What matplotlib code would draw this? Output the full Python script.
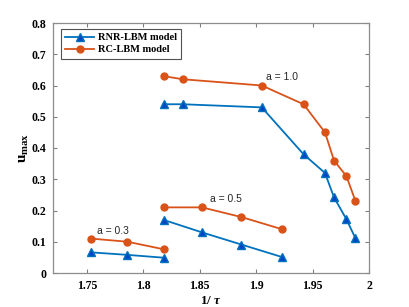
import matplotlib.pyplot as plt

# a = 0.3, 0.5, 1.0 groups, x is 1/tau
x_a03 = [1.754, 1.786, 1.818]
x_a05 = [1.818, 1.852, 1.887, 1.923]
x_a10 = [1.818, 1.835, 1.905, 1.942, 1.961, 1.969, 1.980, 1.988]

rnr_a03 = [0.066, 0.058, 0.049]
rc_a03 = [0.110, 0.100, 0.076]
rnr_a05 = [0.170, 0.130, 0.091, 0.051]
rc_a05 = [0.210, 0.210, 0.179, 0.140]
rnr_a10 = [0.540, 0.540, 0.530, 0.380, 0.320, 0.242, 0.172, 0.111]
rc_a10 = [0.630, 0.620, 0.600, 0.540, 0.450, 0.360, 0.310, 0.230]

x_ticks = [1.75, 1.8, 1.85, 1.9, 1.95, 2.0]
x_ticklabels = ["1.75", "1.8", "1.85", "1.9", "1.95", "2"]
y_ticks = [0, 0.1, 0.2, 0.3, 0.4, 0.5, 0.6, 0.7, 0.8]
y_ticklabels = ["0", "0.1", "0.2", "0.3", "0.4", "0.5", "0.6", "0.7", "0.8"]

BLUE = "#0072BD"
ORANGE = "#D95319"

plt.rcParams["font.family"] = ["Liberation Serif", "DejaVu Serif"]
plt.rcParams["font.weight"] = "bold"
plt.rcParams["mathtext.fontset"] = "custom"
plt.rcParams["mathtext.rm"] = "Liberation Serif:bold"
plt.rcParams["mathtext.bf"] = "Liberation Serif:bold"
plt.rcParams["mathtext.it"] = "Liberation Serif:italic:bold"

fig = plt.figure(figsize=(4.09, 3.07), dpi=100)
ax = fig.add_axes([53 / 409, 1 - 273 / 307, (369 - 53) / 409, (273 - 23) / 307])

rnr_style = dict(color=BLUE, lw=1.3, marker="^", ms=5.5, mfc="#0047C8", mec=BLUE, mew=1.0)
rc_style = dict(color=ORANGE, lw=1.3, marker="o", ms=5, mfc=ORANGE, mec=ORANGE)

ax.plot(x_a10, rnr_a10, label="RNR-LBM model", **rnr_style)
ax.plot(x_a10, rc_a10, label="RC-LBM model", **rc_style)
ax.plot(x_a05, rnr_a05, **rnr_style)
ax.plot(x_a05, rc_a05, **rc_style)
ax.plot(x_a03, rnr_a03, **rnr_style)
ax.plot(x_a03, rc_a03, **rc_style)

ann_font = dict(family=["Liberation Sans", "DejaVu Sans"], fontweight="normal",
                fontsize=7.5, color="#262626")
ax.text(1.923, 0.627, "a = 1.0", ha="center", va="center", **ann_font)
ax.text(1.873, 0.237, "a = 0.5", ha="center", va="center", **ann_font)
ax.text(1.773, 0.134, "a = 0.3", ha="center", va="center", **ann_font)

ax.set_xlim(1.72, 2.0)
ax.set_ylim(0, 0.8)
ax.set_xticks(x_ticks, x_ticklabels, fontsize=8.5, fontweight="bold")
ax.set_yticks(y_ticks, y_ticklabels, fontsize=8.5, fontweight="bold")

ax.tick_params(direction="in", top=True, right=True, length=3, width=0.8,
               color="#808080", pad=5)
for sp in ax.spines.values():
    sp.set_color("#8c8c8c")
    sp.set_linewidth(0.9)

ax.set_xlabel(r"1/ $\mathit{\tau}$", fontweight="bold", fontsize=9.5, labelpad=2)
ax.set_ylabel(r"$\mathbf{u}_{\mathbf{max}}$", fontsize=11, labelpad=0)

leg = ax.legend(loc="upper left", bbox_to_anchor=(8 / 316, 1 - 6 / 250),
                prop=dict(weight="bold", size=7.5), frameon=True, fancybox=False,
                borderaxespad=0, handlelength=2.8, handletextpad=0.35,
                borderpad=0.4, labelspacing=0.25)
leg.get_frame().set_edgecolor("#262626")
leg.get_frame().set_linewidth(0.8)

fig.savefig("out.png", dpi=100)
